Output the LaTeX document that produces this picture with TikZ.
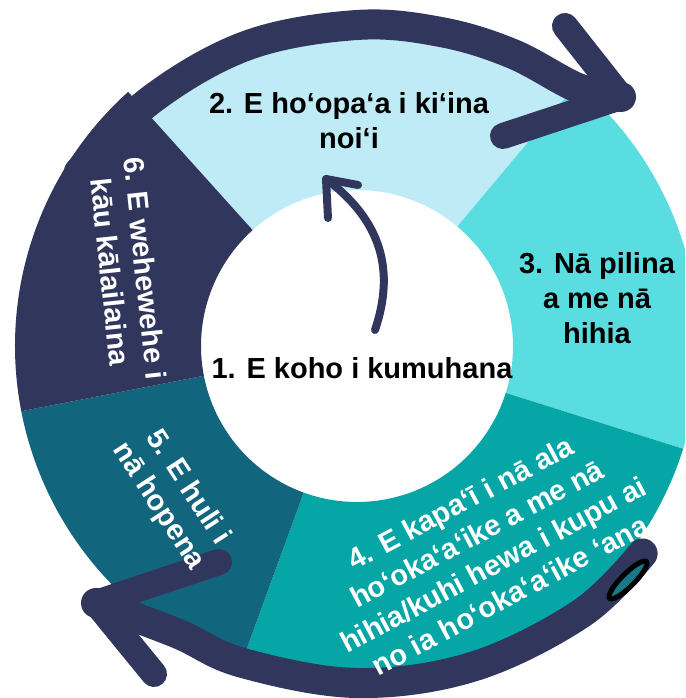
\documentclass[tikz,border=0pt]{standalone}
\usepackage{fontspec}
\setmainfont{Liberation Sans}
\usetikzlibrary{shapes.geometric}
\definecolor{navy}{RGB}{49,54,92}
\definecolor{segtwo}{RGB}{190,235,245}
\definecolor{segthree}{RGB}{90,221,225}
\definecolor{segfour}{RGB}{6,166,166}
\definecolor{segfive}{RGB}{17,101,124}
\tikzset{
  lbl/.style={font=\fontsize{29}{35}\selectfont\bfseries, align=center, inner sep=0pt},
  blk/.style={lbl, text=black},
  wht/.style={lbl, text=white},
  band/.style={draw=navy, line width=30pt, line cap=round, line join=round},
  barb/.style={draw=navy, line width=26pt, line cap=round, line join=round},
}
\begin{document}
\begin{tikzpicture}[x=1pt,y=1pt]
\useasboundingbox (-357,-352) rectangle (328,346);
\clip (-357,-352) rectangle (328,346);
% ring segments
\fill[segtwo] (50:156) arc[start angle=50,end angle=132,radius=156] -- (132:334) arc[start angle=132,end angle=50,radius=334] -- cycle;
\fill[segthree] (-17.5:156) arc[start angle=-17.5,end angle=50,radius=156] -- (50:342) arc[start angle=50,end angle=-17.5,radius=342] -- cycle;
\fill[segfour] (-110:156) arc[start angle=-110,end angle=-17.5,radius=156] -- (-17.5:342) arc[start angle=-17.5,end angle=-110,radius=342] -- cycle;
\fill[segfive] (191:156) arc[start angle=191,end angle=250,radius=156] -- (250:342) arc[start angle=250,end angle=191,radius=342] -- cycle;
\fill[navy] (132:156) arc[start angle=132,end angle=191,radius=156] -- (191:342) arc[start angle=191,end angle=132,radius=342] -- cycle;
% top arrow
\coordinate (ttail) at (148:328);
\coordinate (tjoin) at (221,258);
\coordinate (ttip) at (264,249);
\coordinate (tup) at (208,320);
\coordinate (tlow) at (146,210);
\path[band] plot[smooth, tension=0.6] coordinates {(ttail) (130:321) (110:320) (90:321) (75:325) (62:331) (tjoin) (ttip)};
\path[barb] (tup) -- (ttip) -- (tlow);
% bottom arrow
\coordinate (btail) at (-36:353);
\coordinate (btip) at (-261,-257);
\coordinate (bup) at (-138,-216);
\coordinate (blow) at (-203,-328);
\path[band] plot[smooth, tension=0.6] coordinates {(btail) (-50:349) (-70:341) (-90:337) (-110:337) (-122:339) (btip)};
\path[barb] (bup) -- (btip) -- (blow);
% scribble mark
\node[draw=black, line width=5pt, fill=segfour!60!navy, ellipse, minimum width=52pt, minimum height=13pt, rotate=45, inner sep=0pt] (mark) at (271,-234) {};
% inner arrow
\coordinate (itail) at (18,16);
\coordinate (itip) at (-31,167);
\coordinate (ib1) at (1,161);
\coordinate (ib2) at (-29,128);
\draw[navy, line width=8pt, line cap=round] (itail) .. controls (38,75) and (25,125) .. (itip);
\draw[navy, line width=8pt, line cap=round, line join=round] (ib1) -- (itip) -- (ib2);
% labels
\node[blk] (t1) at (5,-22) {1. E koho i kumuhana};
\node[blk] (t2) at (-8,225) {2. E ho‘opa‘a i ki‘ina\\noi‘i};
\node[blk] (t3) at (240,48) {3. Nā pilina\\a me nā\\hihia};
\node[wht, rotate=28] (t4) at (128,-203) {4. E kapa‘ī i nā ala\\ho‘oka‘a‘ike a me nā\\hihia/kuhi hewa i kupu ai\\no ia ho‘oka‘a‘ike ‘ana};
\node[wht, rotate=-57] (t5) at (-184,-151) {5. E huli i\\nā hopena};
\node[wht, rotate=-84] (t6) at (-229,76) {6. E wehewehe i\\kāu kālailaina};
\end{tikzpicture}
\end{document}
